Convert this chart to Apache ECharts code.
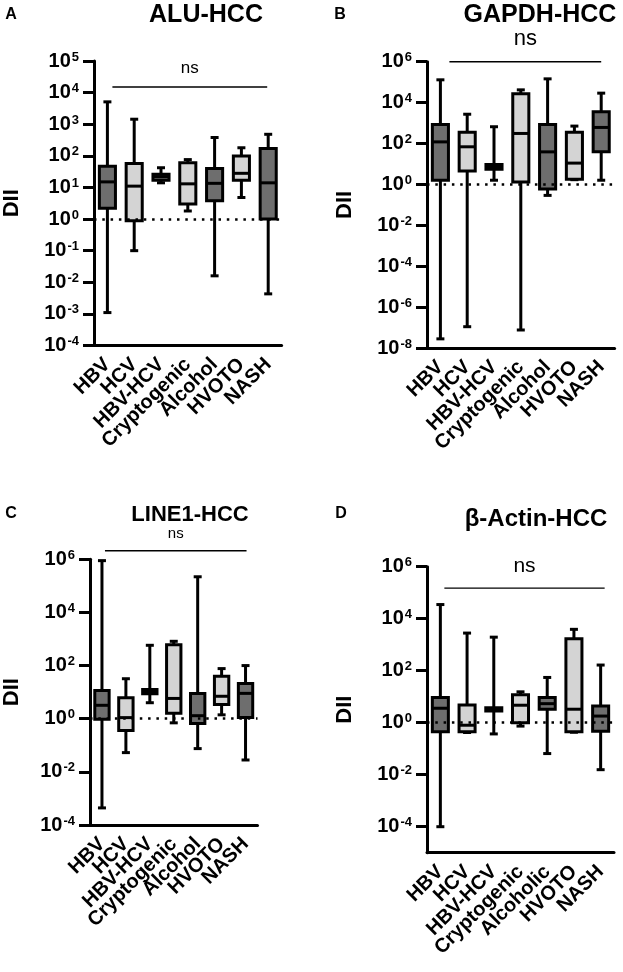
<!DOCTYPE html>
<html><head><meta charset="utf-8">
<script src="https://cdn.jsdelivr.net/npm/echarts@6/dist/echarts.min.js"></script>
<style>html,body{margin:0;padding:0;background:#fff}#c{width:623px;height:972px}</style>
</head><body><div id="c"></div><script>
const categories = ['HBV','HCV','HBV-HCV','Cryptogenic','Alcohol','HVOTO','NASH'];
const categoriesD = ['HBV','HCV','HBV-HCV','Cryptogenic','Alcoholic','HVOTO','NASH'];
// each row: [min, Q1, median, Q3, max]
const aluHCC = [
  [1.1e-3, 2.2, 15, 47, 5100],
  [0.1, 0.89, 11, 57, 1440],
  [14, 17, 22, 26, 42],
  [1.8, 3, 13, 60, 76],
  [0.016, 3.8, 13.5, 40, 380],
  [4.8, 17, 28, 98, 180],
  [0.0043, 1.0, 14, 170, 480]
];
const gapdhHCC = [
  [2.8e-8, 1.6, 120, 850, 1.3e5],
  [1.1e-7, 4.5, 69, 350, 2700],
  [1.6, 5.5, 7, 9.3, 660],
  [7.6e-8, 1.3, 310, 27000, 42000],
  [0.29, 0.6, 39, 860, 1.45e5],
  [1.7, 1.8, 11, 350, 710],
  [1.6, 39, 610, 3600, 29000]
];
const line1HCC = [
  [4.4e-4, 0.95, 3.2, 11.5, 8.9e5],
  [0.053, 0.36, 1.1, 6.1, 32],
  [4, 8.7, 10, 12.6, 580],
  [0.7, 1.6, 5.8, 610, 820],
  [0.075, 0.66, 1.3, 8.9, 2.2e5],
  [1.4, 3.4, 7, 40, 77],
  [0.028, 1.1, 9, 21, 100]
];
const actinHCC = [
  [1e-4, 0.45, 3.6, 9.3, 35000],
  [0.42, 0.45, 0.8, 4.8, 2800],
  [0.37, 2.8, 3.3, 3.8, 1950],
  [0.74, 1.0, 4.7, 11.8, 15.4],
  [0.065, 3.3, 5.4, 9.3, 55],
  [0.43, 0.45, 3.3, 1700, 3900],
  [0.0156, 0.47, 1.8, 4.4, 165]
];
// significance bracket level (DII value) per panel
const nsLevels = [1.5e4, 1e6, 2.1e6, 1.5e5];
// y-axis ranges: [min, max, logBase]
const yRanges = [[1e-4, 1e5, 10], [1e-8, 1e6, 100], [1e-4, 1e6, 100], [1e-5, 1e6, 100]];

const FONT = "'Liberation Sans', Arial, Helvetica, sans-serif";
const DARK = '#6e6e6e', LIGHT = '#d4d4d4';

const grids = [
  {left: 94, top: 61, width: 187.6, height: 284.5},
  {left: 427, top: 61.7, width: 187.6, height: 286.3},
  {left: 86, top: 559.3, width: 171.5, height: 265.7},
  {left: 427, top: 566.7, width: 187, height: 286}
];
const nsStyle = [
  {font: 17, gap: 19, inL: 5, inR: -1},
  {font: 22, gap: 23, inL: 9, inR: 0},
  {font: 15, gap: 17, inL: 3, inR: 1},
  {font: 21, gap: 22, inL: 4, inR: 4}
];
const nameGaps = [71, 71, 67, 71];

function boxRender(params, api) {
  const i = api.value(0);
  const ys = [1,2,3,4,5].map(k => api.coord([i, api.value(k)])[1]);
  const x = api.coord([i, api.value(3)])[0];
  const band = api.size([1, 0], [i, 1])[0];
  const bw = band * 0.6, cw = 8;
  const ls = {stroke: '#000', lineWidth: 3};
  return {type: 'group', children: [
    {type: 'line', shape: {x1: x, y1: ys[4], x2: x, y2: ys[3]}, style: ls},
    {type: 'line', shape: {x1: x, y1: ys[1], x2: x, y2: ys[0]}, style: ls},
    {type: 'line', shape: {x1: x - cw/2, y1: ys[4], x2: x + cw/2, y2: ys[4]}, style: ls},
    {type: 'line', shape: {x1: x - cw/2, y1: ys[0], x2: x + cw/2, y2: ys[0]}, style: ls},
    {type: 'rect', shape: {x: x - bw/2, y: ys[3], width: bw, height: ys[1] - ys[3]},
      style: {fill: i % 2 === 0 ? DARK : LIGHT, stroke: '#000', lineWidth: 3}},
    {type: 'line', shape: {x1: x - bw/2, y1: ys[2], x2: x + bw/2, y2: ys[2]}, style: ls}
  ]};
}
function nsRender(k) {
  return function (params, api) {
    const a = api.coord([api.value(0), api.value(2)]);
    const b = api.coord([api.value(1), api.value(2)]);
    const s = nsStyle[k];
    const x1 = a[0] + s.inL, x2 = b[0] + s.inR;
    return {type: 'group', children: [
      {type: 'line', shape: {x1: x1, y1: a[1], x2: x2, y2: b[1]}, style: {stroke: '#000', lineWidth: 1.4}},
      {type: 'text', x: (x1 + x2) / 2, y: a[1] - s.gap,
        style: {text: 'ns', fontSize: s.font, fontFamily: FONT, fill: '#000', align: 'center', verticalAlign: 'middle'}}
    ]};
  };
}

const panels = [aluHCC, gapdhHCC, line1HCC, actinHCC];
const cats = [categories, categories, categories, categoriesD];

const option = {
  animation: false,
  backgroundColor: '#fff',
  grid: grids.map(g => Object.assign({containLabel: false}, g)),
  xAxis: panels.map((p, k) => ({
    type: 'category', gridIndex: k, data: cats[k], boundaryGap: true,
    axisLine: {lineStyle: {color: '#000', width: 3}},
    axisTick: {alignWithLabel: true, length: 11, lineStyle: {color: '#000', width: 3}},
    axisLabel: {rotate: 45, interval: 0, margin: 16, color: '#000', fontSize: 20, fontWeight: 'bold', fontFamily: FONT},
    splitLine: {show: false}
  })),
  yAxis: panels.map((p, k) => ({
    type: 'log', gridIndex: k, min: yRanges[k][0], max: yRanges[k][1], logBase: yRanges[k][2],
    name: 'DII', nameLocation: 'middle', nameRotate: 90, nameGap: nameGaps[k],
    nameTextStyle: {fontSize: 22, fontWeight: 'bold', fontFamily: FONT, color: '#000'},
    axisLine: {show: true, lineStyle: {color: '#000', width: 3}},
    axisTick: {show: true, length: 11, lineStyle: {color: '#000', width: 3}},
    splitLine: {show: false},
    minorTick: {show: false},
    axisLabel: {
      margin: 15, showMinLabel: k === 3 ? false : true,
      formatter: v => { const e = Math.round(Math.log10(v)); return '{b|10}{s|' + (e < 0 ? '-' + (-e) : e) + '}'; },
      rich: {
        b: {fontSize: 20, fontWeight: 'bold', fontFamily: FONT, color: '#000', lineHeight: 21},
        s: {fontSize: 13, fontWeight: 'bold', fontFamily: FONT, color: '#000', lineHeight: 15, verticalAlign: 'top', padding: [0, 0, 0, 1]}
      }
    }
  })),
  series: [].concat(
    panels.map((p, k) => ({
      type: 'custom', xAxisIndex: k, yAxisIndex: k, renderItem: boxRender, z: 2,
      encode: {x: 0, y: [1,2,3,4,5]},
      data: p.map((r, i) => [i].concat(r))
    })),
    panels.map((p, k) => ({
      type: 'line', xAxisIndex: k, yAxisIndex: k, data: [], z: 5,
      markLine: {silent: true, symbol: 'none', label: {show: false},
        lineStyle: {type: [2.5, 5.8], width: 2.5, color: '#000'},
        data: [{yAxis: 1}]}
    })),
    panels.map((p, k) => ({
      type: 'custom', xAxisIndex: k, yAxisIndex: k, renderItem: nsRender(k), z: 3, clip: false,
      encode: {x: [0, 1], y: 2},
      data: [[0, 6, nsLevels[k]]]
    }))
  ),
  graphic: [
    {type: 'text', x: 11, y: 15, style: {text: 'A', fontSize: 16, fontWeight: 'bold', fontFamily: FONT, fill: '#000', align: 'center', verticalAlign: 'middle'}},
    {type: 'text', x: 206, y: 15, style: {text: 'ALU-HCC', fontSize: 25, fontWeight: 'bold', fontFamily: FONT, fill: '#000', align: 'center', verticalAlign: 'middle'}},
    {type: 'text', x: 340, y: 15, style: {text: 'B', fontSize: 16, fontWeight: 'bold', fontFamily: FONT, fill: '#000', align: 'center', verticalAlign: 'middle'}},
    {type: 'text', x: 540, y: 15, style: {text: 'GAPDH-HCC', fontSize: 25, fontWeight: 'bold', fontFamily: FONT, fill: '#000', align: 'center', verticalAlign: 'middle'}},
    {type: 'text', x: 11, y: 514, style: {text: 'C', fontSize: 16, fontWeight: 'bold', fontFamily: FONT, fill: '#000', align: 'center', verticalAlign: 'middle'}},
    {type: 'text', x: 190, y: 515, style: {text: 'LINE1-HCC', fontSize: 22, fontWeight: 'bold', fontFamily: FONT, fill: '#000', align: 'center', verticalAlign: 'middle'}},
    {type: 'text', x: 341, y: 514, style: {text: 'D', fontSize: 16, fontWeight: 'bold', fontFamily: FONT, fill: '#000', align: 'center', verticalAlign: 'middle'}},
    {type: 'text', x: 536, y: 519, style: {text: 'β-Actin-HCC', fontSize: 24, fontWeight: 'bold', fontFamily: FONT, fill: '#000', align: 'center', verticalAlign: 'middle'}}
  ]
};
const chart = echarts.init(document.getElementById('c'), null, {renderer: 'canvas'});
chart.setOption(option);
</script></body></html>
